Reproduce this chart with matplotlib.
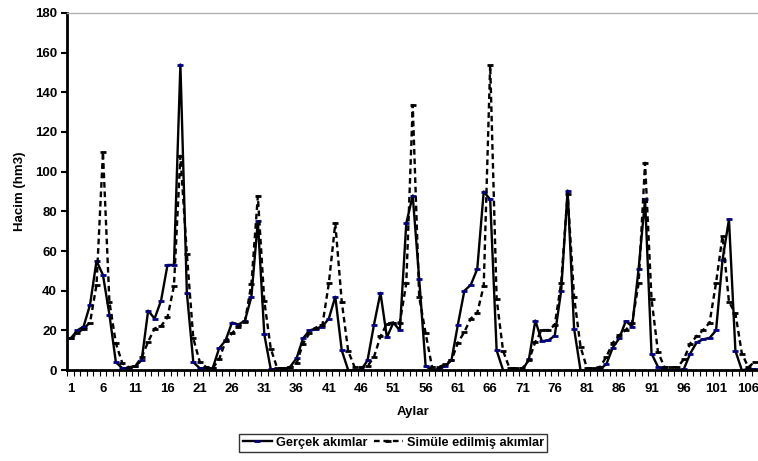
import numpy as np
import matplotlib
matplotlib.use("Agg")
import matplotlib.pyplot as plt
from matplotlib.ticker import FixedLocator

# aylik hacimler (hm3)
gercek = [16, 20, 22, 33, 55, 48, 28, 4, 1, 1, 2, 5,
          30, 26, 35, 53, 53, 154, 39, 4, 1, 1, 1, 11,
          15, 24, 23, 25, 37, 75, 18, 0.5, 0.5, 0.5, 1.7, 6,
          16, 20, 21, 22, 26, 37, 10, 0, 0, 0, 5, 23,
          39, 16.5, 24, 20, 74, 88, 46, 2, 0, 0.5, 2, 5,
          23, 40, 43, 51, 90, 86, 10, 0, 0, 0, 0, 5.5,
          25, 14.6, 15, 17.3, 40, 90.5, 21, 0, 0, 0, 0.5, 3,
          11.4, 16, 24.7, 22, 51, 86, 8.4, 1.7, 0.5, 0, 0, 0.5,
          8.4, 14, 15.5, 16.3, 20, 55.5, 76, 9.7, 0, 0.5, 0.5]

simule = [16, 18.5, 21, 24, 43, 110, 34.4, 13.6, 3.5, 1.5, 2, 6.5,
          14.3, 21, 22.2, 26.6, 42.5, 108, 58.5, 16, 4.2, 1.5, 1, 5.5,
          14.5, 18.6, 22, 24.4, 43.5, 87.7, 34.8, 10.9, 1, 1, 1.5, 3.4,
          13.4, 18.6, 21.5, 22.7, 43.8, 74, 34.6, 9.6, 1.5, 1.5, 2, 6.7,
          17, 23.5, 24, 24, 43.7, 133.6, 37, 18.5, 1.5, 1.5, 2.9, 5,
          13.8, 19.3, 26, 28.9, 42.5, 153.8, 36, 9.7, 1, 1, 1, 5,
          14.3, 20.2, 20.2, 22.7, 44, 89, 37, 11.8, 1, 1, 1.5, 6.7,
          13.8, 17.6, 20.2, 24, 43.7, 104.5, 36, 9.2, 1.5, 1.5, 1.5, 5.4,
          13.4, 17.1, 20.2, 24, 44, 67.6, 34.4, 28.6, 8.4, 1.5, 4.2]

aylar = np.arange(1, len(gercek) + 1)
etiketler = aylar[::5]

plt.rcParams['font.family'] = ['Liberation Sans Narrow', 'Liberation Sans', 'DejaVu Sans']
plt.rcParams['font.weight'] = 'bold'
plt.rcParams['axes.labelweight'] = 'bold'
plt.rcParams['font.size'] = 9.5

fig = plt.figure(figsize=(7.58, 4.61), dpi=100)
ax = fig.add_axes([0.089, 0.197, 0.911, 0.775])

ax.plot(aylar, gercek, '-', color='black', linewidth=1.7,
        marker='_', markersize=5, markeredgewidth=2, markeredgecolor='navy',
        label='Gerçek akımlar')
ax.plot(aylar, simule, '--', color='black', linewidth=1.7, dashes=(2.4, 1.6),
        marker='_', markersize=4, markeredgewidth=2, markeredgecolor='black',
        label='Simüle edilmiş akımlar')

ax.set_xlim(0.5, len(gercek) + 0.5)
ax.set_ylim(0, 180)
ax.set_yticks(np.arange(0, 181, 20))
ax.set_xticks(etiketler)
ax.xaxis.set_minor_locator(FixedLocator(np.arange(0.5, len(gercek) + 1, 1)))
ax.tick_params(axis='x', which='major', length=0, pad=9)
ax.tick_params(axis='x', which='minor', length=4, width=0.8, direction='out')
ax.tick_params(axis='y', which='major', length=4, width=1.5, direction='out')

for s in ['left', 'bottom']:
    ax.spines[s].set_linewidth(2)
ax.spines['right'].set_visible(False)
ax.spines['top'].set_color('#b0b0b0')
ax.spines['top'].set_linewidth(1)

ax.set_xlabel('Aylar', labelpad=8, fontweight='bold')
ax.set_ylabel('Hacim (hm3)', labelpad=6, fontweight='bold')

leg = ax.legend(loc='upper center', bbox_to_anchor=(0.472, -0.16), ncol=2,
                frameon=True, fancybox=False, edgecolor='black',
                handlelength=2.3, handletextpad=0.3, columnspacing=0.5,
                borderpad=0.25, prop={'weight': 'bold', 'size': 9.2})
leg.get_frame().set_linewidth(1)

fig.savefig('out.png', dpi=100)
